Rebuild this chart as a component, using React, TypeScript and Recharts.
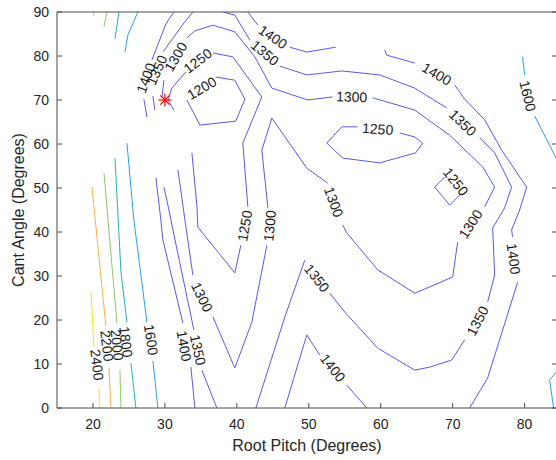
import React from 'react';
import { ComposedChart, Line, XAxis, YAxis, Scatter } from 'recharts';

type P = [number, number] | null;

const xTicks = [20, 30, 40, 50, 60, 70, 80];
const yTicks = [0, 10, 20, 30, 40, 50, 60, 70, 80, 90];

// contour lines (data coordinates); null = break in the line (label gap / separate piece)
const c2400: P[] = [[19.72, 26.4], [20.14, 13.9], null, [20.83, 4.5], [20.97, 0]];
const c2200: P[] = [[20.14, 90], [20.1, 89.1], null, [19.86, 50.2], [21.81, 18.4], null, [22.22, 9.1], [22.5, 0]];
const c2000: P[] = [[21.94, 90], [21.53, 86.7], null, [21.53, 53.4], [23.33, 19.3], null, [23.75, 8.6], [23.89, 0]];
const c1800: P[] = [[23.61, 90], [23.06, 83.9], null, [23.06, 56.8], [23.89, 30.9], [24.72, 19.5], null, [25.28, 10.2], [25.97, 0]];
const c1600: P[] = [
  [26.25, 90], [24.86, 84.8], [24.44, 80.9], null,
  [24.72, 60.2], [25.69, 42.7], [27.5, 19.5], null, [28.33, 10.7], [29.03, 0], null,
  [79.72, 79.8], [80.0, 75.7], null, [81.39, 66.4], [84.31, 57.0], [85.1, 54.3], null,
  [84.6, 8.5], [83.47, 6.4], [84.03, 0],
];
const c1400: P[] = [
  [27.5, 66.1], [27.08, 70.2], null, [28.19, 79.1], [30.14, 87.3], [31.25, 90], null,
  [28.75, 52.3], [29.44, 42.7], [29.72, 38.2], [32.5, 19.3], null, [33.61, 9.3], [34.17, 0], null,
  [41.53, 90], [42.92, 87.0], null, [47.36, 82.0], [49.72, 80.9], [53.75, 82.0], null,
  [60.56, 81.4], [60.83, 80.2], [64.72, 78.4], null, [70.28, 73.4], [71.67, 70.2], [74.44, 65.5], [76.81, 58.6],
  [80.28, 50.2], [79.31, 45.0], [78.19, 40.5], [78.33, 38.9], null, [79.03, 28.6], [74.86, 6.8], [72.36, 0], null,
  [46.67, 0], [49.72, 16.6], [51.53, 12.0], null, [55.28, 5.2], [58.06, 0],
];
const c1350: P[] = [
  [28.61, 67.7], [28.33, 70.9], null, [29.72, 80.9], [32.64, 87.5], [33.89, 90], null,
  [29.86, 50.2], [30.42, 46.1], [30.97, 41.6], [34.03, 17.7], null, [35.14, 8.6], [37.22, 0], null,
  [38.06, 90], [39.72, 89.3], [41.81, 83.6], null, [45.97, 77.7], [49.72, 75.7], [54.58, 76.6], [59.86, 75.7],
  [64.72, 72.7], [69.17, 68.2], null, [73.75, 61.4], [75.83, 58.0], [78.19, 50.2], [77.22, 45.5], [75.56, 40.9],
  [75.83, 30.2], [74.86, 24.1], null, [71.67, 15.5], [69.86, 10.9], [66.81, 9.3], [64.72, 8.6], [59.58, 13.6],
  [55.0, 21.8], [52.92, 26.1], null, [49.44, 33.6], [46.67, 20.7], [42.64, 0],
];
const c1300: P[] = [
  [29.58, 70.5], [29.86, 74.5], null, [33.06, 84.1], [34.17, 85.7], [36.67, 87.0], [39.72, 85.5], [42.5, 79.8],
  [44.86, 72.7], [49.86, 70.0], [53.33, 70.7], null, [58.89, 70.5], [64.72, 67.7], [69.58, 62.0], [74.17, 54.8],
  [75.83, 50.2], [74.44, 45.7], null, [70.69, 37.7], [70.0, 29.8], [66.81, 27.5], [64.72, 26.1], [59.58, 31.4],
  [55.28, 39.8], [54.72, 41.6], null, [52.64, 51.1], [49.72, 54.5], [44.86, 65.9], [43.47, 58.6], [44.31, 45.5], null,
  [44.17, 37.0], [42.08, 19.5], [39.72, 9.1], [36.67, 20.7], null, [33.89, 30.2], [32.78, 42.7], [32.5, 46.1], [31.81, 54.1],
];
const c1250: P[] = [
  [31.25, 67.7], [30.42, 70.0], [30.97, 72.7], [32.92, 76.4], null, [36.67, 80.7], [39.44, 79.8], [43.47, 70.7],
  [40.83, 60.2], [41.53, 45.7], null, [40.56, 37.0], [39.72, 30.7], [34.58, 41.1], [34.44, 46.1], [33.75, 58.0], null,
  [54.58, 63.9], [56.81, 63.9], null, [62.64, 62.5], [64.72, 61.6], [65.83, 60.2], [64.86, 58.0], [59.86, 55.7],
  [54.72, 56.8], [52.5, 60.2], [54.58, 63.9], null,
  [68.89, 52.5], [67.5, 50.2], [69.58, 46.1], [71.25, 48.9],
];
const c1200: P[] = [[37.08, 75.2], [39.72, 74.5], [41.11, 70.2], [39.86, 65.2], [34.86, 64.3], [33.06, 70.0]];

const contourLabels: [string, number, number][] = [
  ['2400', 20.56, 9.8], ['2200', 21.94, 14.1], ['2000', 23.33, 14.3], ['1800', 24.58, 15.0],
  ['1600', 28.06, 15.5], ['1400', 32.64, 14.1], ['1350', 34.58, 13.2], ['1300', 35.14, 25.2],
  ['1250', 41.11, 41.4], ['1300', 44.58, 41.4], ['1350', 51.11, 29.5], ['1400', 53.33, 9.1],
  ['1300', 53.47, 46.8], ['1250', 59.58, 63.4], ['1300', 55.97, 70.7], ['1350', 43.89, 80.7],
  ['1400', 45.0, 84.3], ['1400', 67.78, 75.9], ['1350', 71.39, 64.8], ['1250', 70.42, 51.4],
  ['1300', 72.5, 41.8], ['1350', 73.47, 19.8], ['1400', 78.47, 33.9], ['1600', 80.42, 70.9],
  ['1200', 35.14, 72.7], ['1250', 34.58, 78.9], ['1300', 31.53, 79.8], ['1350', 28.89, 76.8],
  ['1400', 27.36, 75.0],
];
const labelAngles = [
  83, 83, 84, 83, 81, 80, 78, 64, -80, -85, 52, 52, 70, 4, 2, 40, 34, 30, 44, 52, -57, -62, 82, 76,
  -30, -37, -60, -66, -70,
];

const optimum = [{ x: 30, y: 70 }];

const BLUE = '#5a5ae4';
const contourSeries = [
  { pts: c2400, color: '#f2e41c' },
  { pts: c2200, color: '#f7b247' },
  { pts: c2000, color: '#8cc86c' },
  { pts: c1800, color: '#27b3ad' },
  { pts: c1600, color: '#2e9ceb' },
  { pts: c1400, color: BLUE },
  { pts: c1350, color: BLUE },
  { pts: c1300, color: BLUE },
  { pts: c1250, color: BLUE },
  { pts: c1200, color: BLUE },
];

const toPts = (arr: P[]) => arr.map((p) => (p ? { x: p[0], y: p[1] } : { x: null, y: null }));
const labelTable = contourLabels.map((l, i) => ({ text: l[0], x: l[1], y: l[2], angle: labelAngles[i] }));

const FONT = '"Liberation Sans", Arial, Helvetica, sans-serif';
const AX = '#4a4a4a';
const TXT = '#262626';

const BottomTick = (p: any) => (
  <g>
    <line x1={p.x} x2={p.x} y1={408} y2={403} stroke={AX} strokeWidth={1} />
    <text x={p.x} y={429} textAnchor="middle" fontSize={14} fontFamily={FONT} fill={TXT}>
      {p.payload.value}
    </text>
  </g>
);
const TopTick = (p: any) => <line x1={p.x} x2={p.x} y1={12} y2={17} stroke={AX} strokeWidth={1} />;
const LeftTick = (p: any) => (
  <g>
    <line x1={57} x2={62} y1={p.y} y2={p.y} stroke={AX} strokeWidth={1} />
    <text x={49} y={p.y + 5} textAnchor="end" fontSize={14} fontFamily={FONT} fill={TXT}>
      {p.payload.value}
    </text>
  </g>
);
const RightTick = (p: any) => <line x1={557} x2={552} y1={p.y} y2={p.y} stroke={AX} strokeWidth={1} />;

const LabelShape = (p: any) => {
  const { cx, cy, payload } = p;
  return (
    <text
      x={cx}
      y={cy}
      dy="0.35em"
      transform={`rotate(${payload.angle} ${cx} ${cy})`}
      textAnchor="middle"
      fontSize={14}
      fontFamily={FONT}
      fill="#1a1a1a"
    >
      {payload.text}
    </text>
  );
};

const StarShape = (p: any) => {
  const { cx, cy } = p;
  const r = 6.5;
  const d = 4.6;
  return (
    <g stroke="#ff0000" strokeWidth={1.2}>
      <line x1={cx - r} x2={cx + r} y1={cy} y2={cy} />
      <line x1={cx} x2={cx} y1={cy - r} y2={cy + r} />
      <line x1={cx - d} x2={cx + d} y1={cy - d} y2={cy + d} />
      <line x1={cx - d} x2={cx + d} y1={cy + d} y2={cy - d} />
    </g>
  );
};

export default function App() {
  return (
    <div style={{ position: 'absolute', left: 0, top: 0, width: 556, height: 460, overflow: 'hidden', background: '#fff' }}>
      <ComposedChart width={600} height={460} margin={{ top: 11, right: 42, bottom: 22, left: 27 }}>
        <XAxis
          dataKey="x"
          type="number"
          domain={[15, 84.5]}
          allowDataOverflow
          ticks={xTicks}
          interval={0}
          height={30}
          tickLine={false}
          axisLine={{ stroke: AX, strokeWidth: 1 }}
          tick={BottomTick}
          label={(lp: any) => (
            <text x={307} y={451} textAnchor="middle" fontSize={16} fontFamily={FONT} fill={TXT}>
              Root Pitch (Degrees)
            </text>
          )}
        />
        <XAxis
          xAxisId="top"
          orientation="top"
          type="number"
          domain={[15, 84.5]}
          allowDataOverflow
          ticks={xTicks}
          interval={0}
          height={1}
          tickLine={false}
          axisLine={{ stroke: AX, strokeWidth: 1 }}
          tick={TopTick}
        />
        <YAxis
          dataKey="y"
          type="number"
          domain={[0, 90]}
          allowDataOverflow
          ticks={yTicks}
          interval={0}
          width={30}
          tickLine={false}
          axisLine={{ stroke: AX, strokeWidth: 1 }}
          tick={LeftTick}
          label={(lp: any) => (
            <text x={24} y={210} transform="rotate(-90 24 210)" textAnchor="middle" fontSize={16} fontFamily={FONT} fill={TXT}>
              Cant Angle (Degrees)
            </text>
          )}
        />
        <YAxis
          yAxisId="right"
          orientation="right"
          type="number"
          domain={[0, 90]}
          allowDataOverflow
          ticks={yTicks}
          interval={0}
          width={1}
          tickLine={false}
          axisLine={{ stroke: AX, strokeWidth: 1 }}
          tick={RightTick}
        />
        {contourSeries.map((s, i) => (
          <Line
            key={i}
            data={toPts(s.pts)}
            dataKey="y"
            type="linear"
            stroke={s.color}
            strokeWidth={1}
            dot={false}
            activeDot={false}
            connectNulls={false}
            isAnimationActive={false}
          />
        ))}
        <Scatter data={labelTable} dataKey="y" shape={LabelShape} isAnimationActive={false} />
        <Scatter data={optimum} dataKey="y" shape={StarShape} isAnimationActive={false} />
      </ComposedChart>
    </div>
  );
}
